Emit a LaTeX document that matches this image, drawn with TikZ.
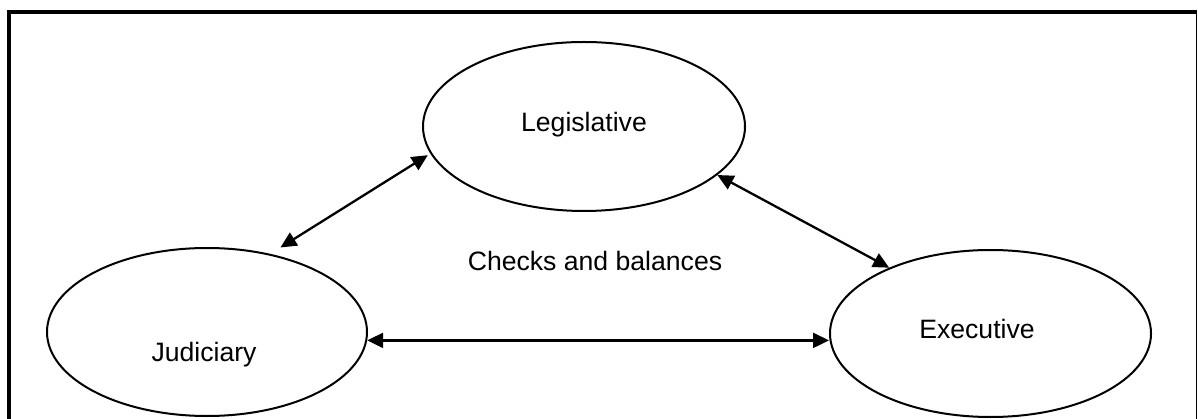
\documentclass[tikz,border=0pt]{standalone}
\usepackage{fontspec}
\setmainfont{Liberation Sans}
\usetikzlibrary{shapes.geometric,arrows.meta}
\begin{document}
\begin{tikzpicture}[x=1pt,y=-1pt,
  branch/.style={ellipse,draw,line width=2pt,inner sep=0pt},
  lbl/.style={anchor=base,inner sep=0pt,font=\fontsize{26.6}{30}\selectfont},
  arr/.style={line width=2.3pt,{Triangle[length=16pt,width=15pt]}-{Triangle[length=16pt,width=15pt]}}]
\useasboundingbox (0,0) rectangle (1198,419);
% frame
\draw[line width=4pt] (9.3,419) -- (9.3,12) -- (1197,12);
\draw[line width=1.3pt] (1196.8,12) -- (1196.8,419);
% branches
\node[branch,minimum width=322pt,minimum height=169pt] (L) at (584,126.5) {};
\node[branch,minimum width=320pt,minimum height=168pt] (J) at (207,332) {};
\node[branch,minimum width=321pt,minimum height=167pt] (E) at (990.5,333.5) {};
% labels
\node[lbl] (Lt) at (584,132) {Legislative};
\node[lbl] (Jt) at (204,361.7) {Judiciary};
\node[lbl] (Et) at (977,338) {Executive};
\node[lbl] (C) at (595,271) {Checks and balances};
% connectors
\draw[arr,shorten <=12pt,shorten >=3pt] (J.51) -- (L.190);
\draw[arr] (L.340.4) -- (E.147.1);
\draw[arr] (J.-3.2) -- (J.-3.2 -| E.west);
\end{tikzpicture}
\end{document}
